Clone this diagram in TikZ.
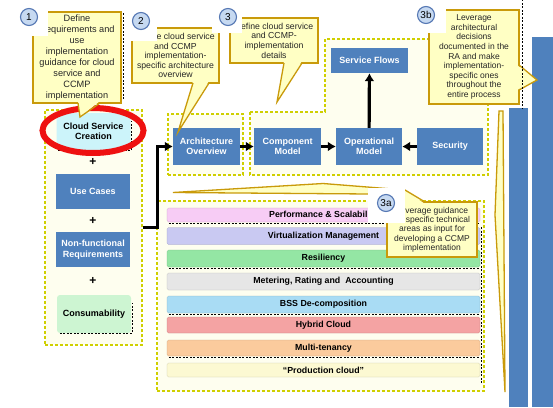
\documentclass[tikz,border=0pt]{standalone}
\usepackage{fontspec}
\setmainfont{Liberation Sans}
\usetikzlibrary{arrows.meta, positioning, calc}
\definecolor{cBlue}{HTML}{4F81BD}
\definecolor{cNote}{HTML}{FFFFC4}
\definecolor{cNoteLine}{HTML}{C99A0A}
\definecolor{cPanel}{HTML}{FEFEEF}
\definecolor{cPanelLine}{HTML}{CFCF00}
\definecolor{cBadge}{HTML}{C6D9F1}
\definecolor{cBadgeLine}{HTML}{5678B4}
\definecolor{cCloud}{HTML}{CCF4FA}
\definecolor{cConsum}{HTML}{CDF5D2}
\definecolor{cPerf}{HTML}{F7CCF5}
\definecolor{cVirt}{HTML}{C9C9F2}
\definecolor{cResil}{HTML}{94E6A4}
\definecolor{cMeter}{HTML}{E6E6E6}
\definecolor{cBSS}{HTML}{A9DCF4}
\definecolor{cHybrid}{HTML}{F4A3A3}
\definecolor{cMulti}{HTML}{FBCB9D}
\definecolor{cProd}{HTML}{FCF9D2}
\definecolor{cRing}{HTML}{EE1111}

\begin{document}
\begin{tikzpicture}[x=1pt, y=-1pt,
    >=Latex,
    panelline/.style={
        fill=cPanel, draw=cPanelLine, line width=1.1pt,
        dash pattern=on 3pt off 2pt
    },
    panel/.style={rectangle, panelline, inner sep=0pt},
    bluebox/.style={
        rectangle, fill=cBlue, minimum width=#1, minimum height=37pt,
        font=\fontsize{9}{10.5}\selectfont\bfseries, align=center, text=white, inner sep=1pt
    },
    bluebox/.default=67pt,
    tallbar/.style={rectangle, fill=cBlue, inner sep=0pt},
    softbox/.style={
        rectangle, rounded corners=3pt, fill=#1, minimum width=74pt, minimum height=37pt,
        font=\fontsize{9}{10.5}\selectfont\bfseries, align=center, text=black, inner sep=1pt
    },
    layer/.style={
        rectangle, rounded corners=1.5pt, fill=#1, draw=#1!80!black, line width=0.3pt,
        minimum width=313pt, minimum height=15pt, inner sep=0pt,
        font=\fontsize{8.8}{10}\selectfont\bfseries, text=black
    },
    note/.style={
        rectangle, fill=cNote, draw=cNoteLine, line width=1.3pt, inner sep=1pt,
        font=\fontsize{8.7}{9.6}\selectfont, align=center, text=black!85
    },
    notetail/.style={fill=cNote},
    noteedge/.style={draw=cNoteLine, line width=1.3pt, line join=miter},
    shadowline/.style={black, line width=1pt, dash pattern=on 2pt off 1.5pt},
    badge/.style={
        circle, fill=cBadge, draw=cBadgeLine, line width=1.1pt, minimum size=17pt,
        inner sep=0pt, font=\fontsize{10}{10}\selectfont, text=black
    },
    badgebg/.style={rectangle, fill=white, inner sep=0pt},
    plus/.style={font=\fontsize{12}{12}\selectfont\bfseries, inner sep=0pt},
    arr/.style={-{Latex[length=8pt, width=10pt]}, line width=3.2pt, black},
    ring/.style={draw=cRing, line width=6pt},
]
\useasboundingbox (0,0) rectangle (553,407);
\fill[white] (0,0) rectangle (553,407);

% Panels
\node[panel, minimum width=97pt, minimum height=235pt] (leftpanel) at (93.5,227.5) {};
\node[panel, minimum width=75pt, minimum height=61pt] (archpanel) at (205.5,144.5) {};
\draw[panelline] (250,112) -- (325,112) -- (325,39) -- (488,39) -- (488,175) -- (250,175) -- cycle;
\node[panel, minimum width=327pt, minimum height=190pt] (layerpanel) at (320.5,296) {};

% Right-hand bars
\node[tallbar, minimum width=19pt, minimum height=299pt] (rbarA) at (518.5,257.5) {};
\node[tallbar, minimum width=21pt, minimum height=370pt] (rbarB) at (542.5,222) {};
\draw[noteedge, fill=cNote] (499,111) -- (503,111) -- (505,392) -- (495,215) -- cycle;

% Left column
\node[softbox=cCloud] (cloud) at (93.5,131.5) {Cloud Service\\Creation};
\draw[shadowline] ($(cloud.south west)+(2,0)$) -- ($(cloud.south east)+(1,0)$) -- ($(cloud.north east)+(1,8)$);
\node[plus] (plusA) at (93,162) {+};
\node[bluebox=74pt, minimum height=35pt] (usecases) at (93,191.5) {Use Cases};
\node[plus] (plusB) at (93,221) {+};
\node[bluebox=74pt, minimum height=35pt] (nfr) at (93,249.5) {Non-functional\\Requirements};
\node[plus] (plusC) at (93,281) {+};
\node[softbox=cConsum, minimum height=38pt] (consum) at (94,314) {Consumability};
\draw[shadowline] ($(consum.south west)+(3,0)$) -- ($(consum.south east)+(1,0)$) -- ($(consum.north east)+(1,8)$);
\draw[ring] (93,130.5) ellipse [x radius=50.5, y radius=22.5];

% Model row
\node[bluebox] (arch) at (206.5,146.5) {Architecture\\Overview};
\node[bluebox] (component) at (287.5,146.5) {Component\\Model};
\node[bluebox=66pt] (operational) at (369,146.5) {Operational\\Model};
\node[bluebox=66pt] (security) at (450,146.5) {Security};
\node[bluebox=77pt, minimum height=25pt] (flows) at (369.5,60.5) {Service Flows};

% Arrows
\draw[arr] (leftpanel.east) -- ++(15,0) |- (arch.west);
\draw[arr] (arch) -- (component);
\draw[arr] (component) -- (operational);
\draw[arr] (security) -- (operational);
\draw[arr] (operational) -- (flows);

% Layers
\node[layer=cPerf, minimum height=14pt] (perf) at (323.5,215) {Performance \& Scalability};
\node[layer=cVirt, minimum height=17pt] (virt) at (323.5,236) {Virtualization Management};
\node[layer=cResil, minimum height=17pt] (resil) at (323.5,258.5) {Resiliency};
\node[layer=cMeter, minimum height=17pt] (meter) at (323.5,281.5) {Metering, Rating and\ \ Accounting};
\node[layer=cBSS, minimum height=17pt] (bss) at (323.5,304.5) {BSS De-composition};
\node[layer=cHybrid, minimum height=16pt] (hybrid) at (323.5,325) {Hybrid Cloud};
\node[layer=cMulti, minimum height=16pt] (multi) at (323.5,348) {Multi-tenancy};
\node[layer=cProd, minimum height=14pt] (prod) at (323.5,370) {“Production cloud”};
\draw[shadowline] ($(perf.south west)+(2,1.5)$) -- ($(perf.south east)+(0,1.5)$);
\draw[shadowline] ($(resil.south west)+(2,1.5)$) -- ($(resil.south east)+(0,1.5)$);
\draw[shadowline] ($(bss.south west)+(2,1.5)$) -- ($(bss.south east)+(0,1.5)$);
\draw[shadowline] ($(multi.south west)+(2,1.5)$) -- ($(multi.south east)+(0,1.5)$);
\draw[shadowline] ($(virt.north east)+(1.5,0)$) -- ($(prod.south east)+(1.5,6)$);

% Callout 1
\node[note, minimum width=88pt, minimum height=91pt, font=\fontsize{9.2}{11}\selectfont] (note1) at (77,57.5)
    {Define\\Requirements and\\use\\implementation\\guidance for cloud\\service and\\CCMP\\implementation};
\fill[notetail] (78,101) -- (80,117) -- (100,101) -- cycle;
\draw[noteedge] (78,103) -- (80,117) -- (100,103);
\draw[shadowline] ($(note1.north east)+(1.5,2)$) -- ($(note1.south east)+(1.5,-3)$);

% Callout 2
\node[note, minimum width=87pt, minimum height=55pt] (note2) at (175.5,55.5)
    {Define cloud service\\and CCMP\\implementation-\\specific architecture\\overview};
\fill[notetail] (193,81) -- (178,132) -- (209,81) -- cycle;
\draw[noteedge] (193,83) -- (178,132) -- (209,83);

% Callout 3
\node[note, minimum width=88pt, minimum height=45pt] (note3) at (274,40.5)
    {Define cloud service\\and CCMP-\\implementation\\details};
\fill[notetail] (284,61) -- (277,102) -- (302,61) -- cycle;
\draw[noteedge] (284,63) -- (277,102) -- (302,63);

% Callout 3b
\node[note, minimum width=90pt, minimum height=94pt, font=\fontsize{8.5}{9.6}\selectfont] (note3b) at (474,57)
    {Leverage\\architectural\\decisions\\documented in the\\RA and make\\implementation-\\specific ones\\throughout the\\entire process};
\fill[notetail] (517,65) -- (537,80) -- (517,90) -- cycle;
\draw[noteedge] (519,65) -- (537,80) -- (519,90);
\draw[shadowline] ($(note3b.north east)+(2.5,-10)$) -- ($(note3b.south east)+(2.5,4)$);

% Callout 3a
\node[note, minimum width=90pt, minimum height=55pt, font=\fontsize{8.5}{9.3}\selectfont] (note3a) at (432,229.5)
    {Leverage guidance\\on specific technical\\areas as input for\\developing a CCMP\\implementation};
\fill[notetail] (392,204) -- (370,194) -- (173,192.5) -- (323,183.5) -- (405,190) -- (425,204) -- cycle;
\draw[noteedge] (392,202) -- (370,194) -- (173,192.5) -- (323,183.5) -- (405,190) -- (425,202);

% Badges
\node[badgebg, minimum width=33pt, minimum height=36pt] (b1bg) at (31.5,18) {};
\node[badge] (b1) at (29,17) {1};
\node[badgebg, minimum width=32pt, minimum height=36pt] (b2bg) at (141,23) {};
\node[badge] (b2) at (141,21) {2};
\node[badgebg, minimum width=30pt, minimum height=30pt] (b3bg) at (227,18) {};
\node[badge] (b3) at (228,17) {3};
\node[badgebg, minimum width=36pt, minimum height=33pt] (b3bbg) at (428,16.5) {};
\node[badge] (b3b) at (426,15) {3b};
\node[badgebg, minimum width=36.5pt, minimum height=35pt] (b3abg) at (386.25,205.5) {};
\node[badge] (b3a) at (386,203) {3a};

\end{tikzpicture}
\end{document}
